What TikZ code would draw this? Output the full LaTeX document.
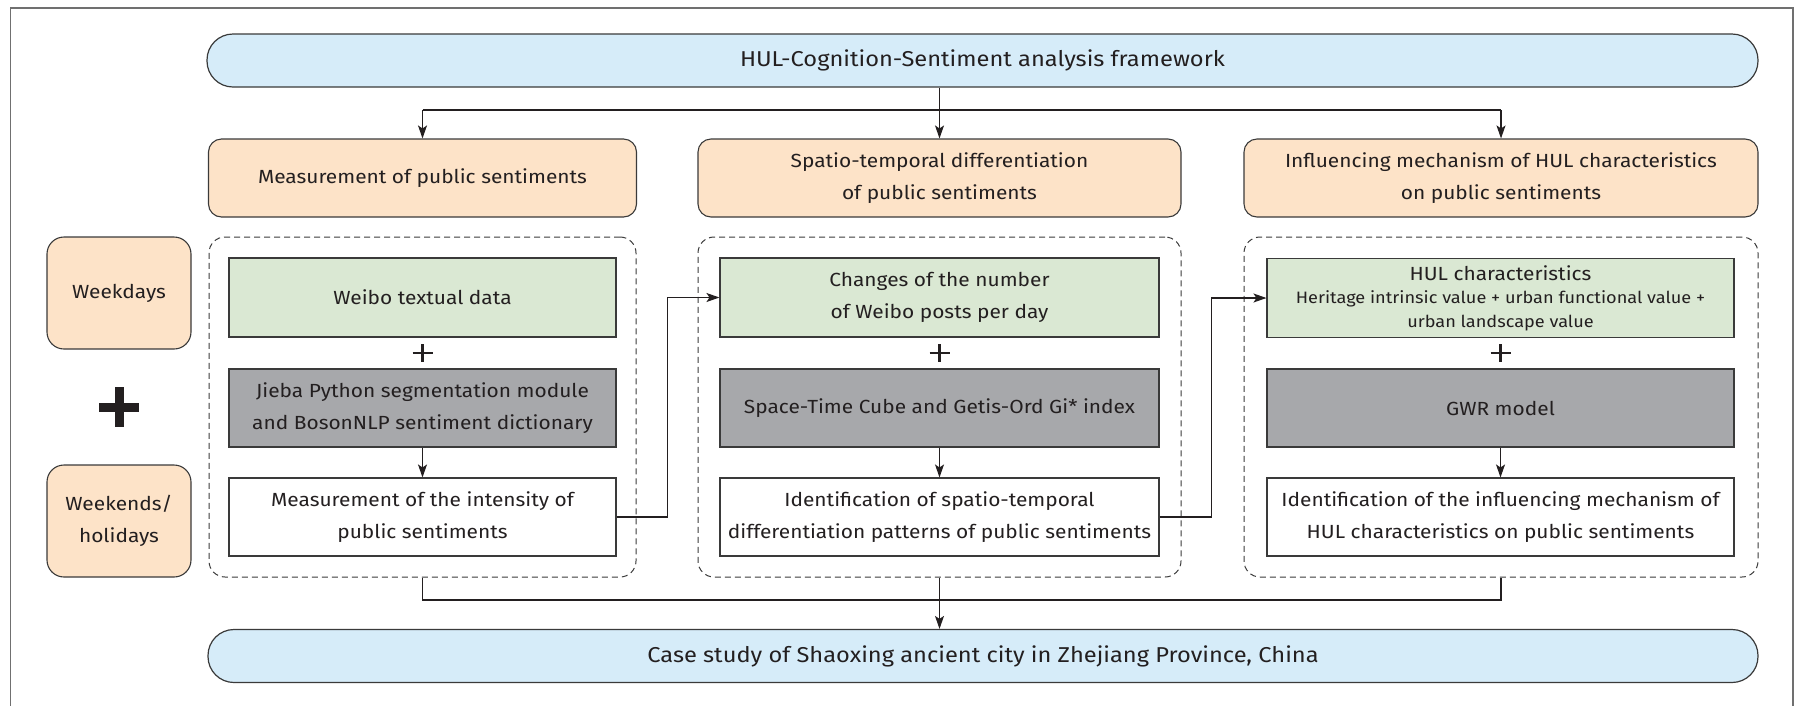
\documentclass[tikz,border=0pt]{standalone}
\usepackage{fontspec}
\setmainfont{Fira Sans}[FakeStretch=1.1]
\usetikzlibrary{arrows.meta,calc}
\definecolor{pillblue}{HTML}{D6ECF9}
\definecolor{boxorange}{HTML}{FDE3C8}
\definecolor{boxgreen}{HTML}{DAE8D3}
\definecolor{boxgray}{HTML}{A7A8AB}
\definecolor{ink}{HTML}{231F20}
\definecolor{edge}{HTML}{3A3A3A}
\definecolor{framegray}{HTML}{707070}
\begin{document}
\begin{tikzpicture}[x=1pt,y=-1pt,
  txt/.style={font=\fontsize{19}{32}\selectfont, text=ink, align=center, inner sep=0pt},
  pill/.style={txt, font=\fontsize{21.5}{32}\selectfont, draw=edge, line width=1.2pt, fill=pillblue, rounded corners=26pt, minimum height=53pt},
  topic/.style={txt, draw=edge, line width=1.1pt, fill=boxorange, rounded corners=13pt, minimum height=78pt},
  daybox/.style={txt, draw=edge, line width=1.1pt, fill=boxorange, rounded corners=17pt, minimum width=144pt, minimum height=112pt},
  group/.style={draw=edge, line width=1pt, dash pattern=on 6pt off 4pt, rounded corners=16pt, inner sep=0pt, minimum height=340pt},
  databox/.style={txt, draw=edge, line width=1.1pt, fill=boxgreen, minimum height=79pt},
  methodbox/.style={txt, draw=edge, line width=1.1pt, fill=boxgray, minimum height=78pt},
  resultbox/.style={txt, draw=edge, line width=1.1pt, fill=white, minimum height=78pt},
  conn/.style={draw=ink, line width=1.1pt},
  arr/.style={conn, -{Stealth[length=13pt,width=9pt,inset=3pt]}},
  plusmark/.style={draw=ink, line width=2.2pt},
]
\useasboundingbox (0,0) rectangle (1797,705);
\draw[framegray, line width=1.4pt] (10.5,706) -- (10.5,8) -- (1793,8) -- (1793,706);

% top and bottom pills
\node[pill, minimum width=1551pt] (top) at (982.5,60.5) {HUL-Cognition-Sentiment analysis framework};
\node[pill, minimum width=1550pt] (case) at (983,656) {Case study of Shaoxing ancient city in Zhejiang Province, China};

% topic boxes
\node[topic, minimum width=428pt] (o1) at (422.5,178) {Measurement of public sentiments};
\node[topic, minimum width=483pt] (o2) at (939.5,178) {Spatio-temporal differentiation\\of public sentiments};
\node[topic, minimum width=514pt] (o3) at (1501,178) {Influencing mechanism of HUL characteristics\\on public sentiments};

% day boxes
\node[daybox] (wd) at (119,293) {Weekdays};
\node[daybox] (we) at (119,521) {Weekends/\\holidays};
\fill[ink] (99,402.5) rectangle (139,411.5);
\fill[ink] (114.5,387) rectangle (123.5,427);

% groups
\node[group, minimum width=427pt] (c1) at (422.5,407) {};
\node[group, minimum width=483pt] (c2) at (939.5,407) {};
\node[group, minimum width=514pt] (c3) at (1501,407) {};

% data boxes
\node[databox, minimum width=387pt] (g1) at (422.5,297.5) {Weibo textual data};
\node[databox, minimum width=439pt] (g2) at (939.5,297.5) {Changes of the number\\of Weibo posts per day};
\node[databox, minimum width=467pt, font=\fontsize{16.5}{23.5}\selectfont] (g3) at (1500.5,298) {{\fontsize{19}{23.5}\selectfont HUL characteristics}\\Heritage intrinsic value + urban functional value +\\urban landscape value};

% method boxes
\node[methodbox, minimum width=387pt] (m1) at (422.5,408) {Jieba Python segmentation module\\and BosonNLP sentiment dictionary};
\node[methodbox, minimum width=439pt] (m2) at (939.5,408) {Space-Time Cube and Getis-Ord Gi* index};
\node[methodbox, minimum width=467pt] (m3) at (1500.5,408) {GWR model};

% result boxes
\node[resultbox, minimum width=387pt] (r1) at (422.5,517) {Measurement of the intensity of\\public sentiments};
\node[resultbox, minimum width=439pt] (r2) at (939.5,517) {Identification of spatio-temporal\\differentiation patterns of public sentiments};
\node[resultbox, minimum width=467pt] (r3) at (1500.5,517) {Identification of the influencing mechanism of\\HUL characteristics on public sentiments};

% plus signs
\foreach \px in {422.5,939.5,1500.5}{
  \draw[plusmark] (\px-10,353) -- (\px+10,353) (\px,344) -- (\px,362);
}

% top connectors
\coordinate (tj) at (939.5,110);
\draw[arr] (top.south -| o2.north) -- (o2.north);
\draw[conn] (tj -| o1.north) -- (tj -| o3.north);
\draw[arr] (tj -| o1.north) -- (o1.north);
\draw[arr] (tj -| o3.north) -- (o3.north);

% inner arrows
\draw[arr] (m1) -- (r1);
\draw[arr] (m2) -- (r2);
\draw[arr] (m3) -- (r3);

% cross connectors
\draw[arr] (r1.east) -- ++(51,0) |- (g2.west);
\draw[arr] (r2.east) -- ++(52,0) |- (g3.west);

% bottom connectors
\coordinate (bj) at (939.5,600);
\draw[conn] (c1.south) -- (c1.south |- bj) -- (c3.south |- bj) -- (c3.south);
\draw[arr] (c2.south) -- (case.north -| c2.south);
\end{tikzpicture}
\end{document}
